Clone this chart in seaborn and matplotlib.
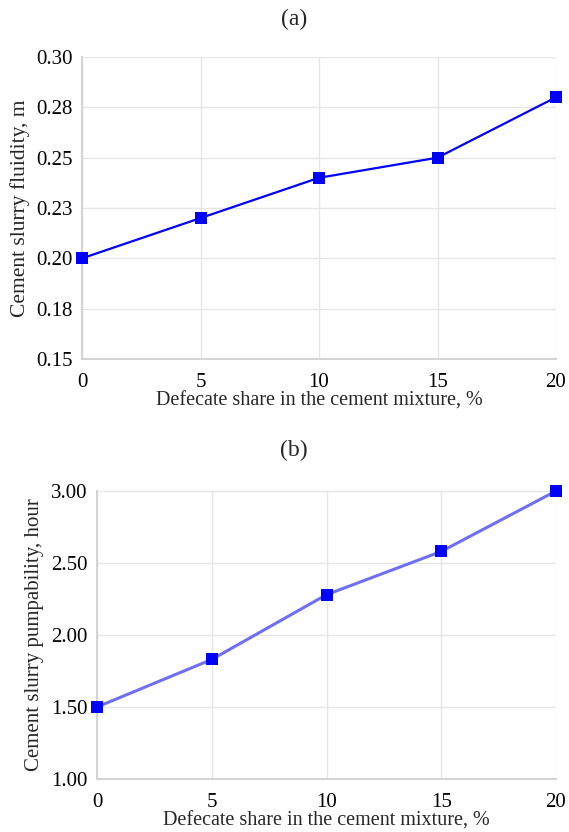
import matplotlib
matplotlib.use("Agg")
import matplotlib.pyplot as plt
import seaborn as sns
import pandas as pd
from matplotlib.ticker import FixedLocator, FormatStrFormatter

share = [0, 5, 10, 15, 20]
fluidity = [0.20, 0.22, 0.24, 0.25, 0.28]
pumpability = [1.50, 1.83, 2.28, 2.58, 3.00]

fluid_ticks = [0.15, 0.175, 0.20, 0.225, 0.25, 0.275, 0.30]
fluid_labels = ["0.15", "0.18", "0.20", "0.23", "0.25", "0.28", "0.30"]
pump_ticks = [1.00, 1.50, 2.00, 2.50, 3.00]
x_ticks = [0, 5, 10, 15, 20]

xlabel = "Defecate share in the cement mixture, %"
ylabel_a = "Cement slurry fluidity, m"
ylabel_b = "Cement slurry pumpability, hour"

sns.set_theme(style="white")
plt.rcParams['font.family'] = ['Liberation Serif', 'DejaVu Serif']
plt.rcParams['font.size'] = 14

df_a = pd.DataFrame({"x": share, "y": fluidity})
df_b = pd.DataFrame({"x": share, "y": pumpability})

fig = plt.figure(figsize=(5.69, 8.32), dpi=100)
W, H = 569, 832
ax1 = fig.add_axes([82 / W, 1 - 359 / H, (556 - 82) / W, (359 - 57) / H])
ax2 = fig.add_axes([97 / W, 1 - 779 / H, (556 - 97) / W, (779 - 491) / H])

sns.lineplot(data=df_a, x="x", y="y", ax=ax1, color="#0000FF", lw=1.6,
             marker="s", markersize=9, markeredgewidth=0, markerfacecolor="#0000FF")
sns.lineplot(data=df_b, x="x", y="y", ax=ax2, color="#6F6FF5", lw=2.2,
             marker="s", markersize=9, markeredgewidth=0, markerfacecolor="#0000FF")

for ax in (ax1, ax2):
    ax.set_xlim(0, 20)
    ax.xaxis.set_major_locator(FixedLocator(x_ticks))
    ax.grid(True, color="#e6e6e6", lw=1.0)
    ax.set_axisbelow(True)
    for s in ("top", "right"):
        ax.spines[s].set_visible(False)
    for s in ("left", "bottom"):
        ax.spines[s].set_color("#d4d4d4")
        ax.spines[s].set_linewidth(1.5)
    ax.tick_params(axis="both", length=0, labelsize=15, colors="black")
    ax.tick_params(axis="x", pad=10)
    ax.tick_params(axis="y", pad=7)
    for line in ax.lines:
        line.set_clip_on(False)
        line.set_zorder(5)
    ax.set_xlabel(xlabel, fontsize=14.5, labelpad=0)

ax1.set_ylim(0.15, 0.30)
ax1.yaxis.set_major_locator(FixedLocator(fluid_ticks))
ax1.set_yticklabels(fluid_labels)
ax1.set_ylabel(ylabel_a, fontsize=15.5, labelpad=4)

ax2.set_ylim(1.0, 3.0)
ax2.yaxis.set_major_locator(FixedLocator(pump_ticks))
ax2.yaxis.set_major_formatter(FormatStrFormatter("%.2f"))
ax2.set_ylabel(ylabel_b, fontsize=15, labelpad=5)

fig.text(294 / W, 1 - 19 / H, "(a)", ha="center", va="center", fontsize=17)
fig.text(294 / W, 1 - 450 / H, "(b)", ha="center", va="center", fontsize=17)

fig.savefig("out.png", dpi=100)
